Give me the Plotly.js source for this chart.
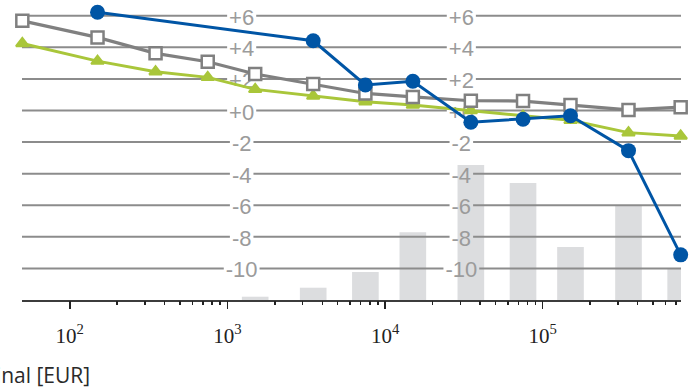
<!DOCTYPE html>
<html><head><meta charset="utf-8">
<script src="https://cdn.plot.ly/plotly-3.0.1.min.js"></script>
<style>html,body{margin:0;padding:0;background:#fff}#chart{width:696px;height:392px}</style>
</head><body><div id="chart"></div>
<script>
// ---- data ----
const binCenters  = [50, 150, 350, 750, 1500, 3500, 7500, 15000, 35000, 75000, 150000, 350000, 750000];
const seriesGray  = [5.68, 4.63, 3.62, 3.09, 2.31, 1.68, 1.08, 0.86, 0.62, 0.60, 0.35, 0.04, 0.21];
const seriesGreen = [4.25, 3.13, 2.46, 2.10, 1.34, 0.92, 0.56, 0.35, 0.00, -0.35, -0.62, -1.40, -1.61];
const seriesBlue  = [null, 6.22, null, null, null, 4.42, 1.62, 1.85, -0.74, -0.55, -0.33, -2.54, -9.14];
const barShare    = [0, 0, 0, 0, 0.33, 1.23, 2.8, 6.77, 13.5, 11.7, 5.3, 9.43, 3.13];
const yTickVals   = [-10, -8, -6, -4, -2, 0, 2, 4, 6];
const yTickText   = ['-10', '-8', '-6', '-4', '-2', '+0', '+2', '+4', '+6'];
const xTickVals   = [100, 1000, 10000, 100000];
const xTickText   = ['10<sup>2</sup>', '10<sup>3</sup>', '10<sup>4</sup>', '10<sup>5</sup>'];
const xTitle      = 'Nominal [EUR]';

// ---- styling / geometry ----
const xMin = 50, xMax = 750000;
const pad = 0.002;
const logRange = [Math.log10(xMin) - pad, Math.log10(xMax) + pad];
const yRange = [-12, 7];
const plotW = 659, plotH = 300;
const labelCols = [1/3, 2/3];
const labelFontSize = 22;
const labelDrop = 3.5 * (yRange[1] - yRange[0]) / plotH; // labels sit slightly below their grid line
const gridColor = '#8c8c8c';

function valAtFrac(f) { return Math.pow(10, logRange[0] + f * (logRange[1] - logRange[0])); }

// minor ticks 2..9 x 10^d
const minorVals = [];
for (let d = 2; d <= 5; d++) for (let m = 2; m <= 9; m++) {
  const v = m * Math.pow(10, d);
  if (v <= xMax) minorVals.push(v);
}

// approximate text widths (Liberation Sans advance widths)
const adv = {'+': 0.584, '-': 0.333};
function textW(s) { let w = 0; for (const c of s) w += (adv[c] !== undefined ? adv[c] : 0.556); return w * labelFontSize; }

// grid line segments broken around the labels
const shapes = [];
yTickVals.forEach((yv, i) => {
  const half = (textW(yTickText[i]) / 2 + 2) / plotW;
  const cuts = [0];
  labelCols.forEach(c => { cuts.push(c - half); cuts.push(c + half); });
  cuts.push(1);
  for (let k = 0; k < cuts.length; k += 2) {
    shapes.push({type: 'line', xref: 'x2', yref: 'y3', layer: 'below',
      x0: valAtFrac(cuts[k]), x1: valAtFrac(cuts[k + 1]), y0: yv, y1: yv,
      line: {color: gridColor, width: 2}});
  }
});

const traces = [];
// bars (own subplot underneath)
traces.push({type: 'bar', x: binCenters.map(v => Math.log10(v)), y: barShare, width: 0.169,
  xaxis: 'x', yaxis: 'y', marker: {color: '#dcdddf', line: {width: 0}}, hoverinfo: 'skip', showlegend: false});
// y labels as text marks inside the plot
labelCols.forEach(c => {
  traces.push({type: 'scatter', mode: 'text', x: yTickVals.map(() => valAtFrac(c)), y: yTickVals,
    text: yTickText, textposition: 'middle center', cliponaxis: false,
    textfont: {family: 'Liberation Sans, Arial, sans-serif', size: labelFontSize, color: '#9b9b9b'},
    xaxis: 'x2', yaxis: 'y2', hoverinfo: 'skip', showlegend: false});
});
traces.push({type: 'scatter', mode: 'lines+markers', x: binCenters, y: seriesGreen, xaxis: 'x2', yaxis: 'y3',
  line: {color: '#a9c63a', width: 3}, marker: {symbol: 'triangle-up', size: 11, color: '#a9c63a', line: {color: '#a9c63a', width: 2}},
  cliponaxis: false, showlegend: false});
traces.push({type: 'scatter', mode: 'lines+markers', x: binCenters, y: seriesGray, xaxis: 'x2', yaxis: 'y3',
  line: {color: '#808080', width: 3.2}, marker: {symbol: 'square', size: 12, color: '#ffffff', line: {color: '#808080', width: 2.5}},
  cliponaxis: false, showlegend: false});
traces.push({type: 'scatter', mode: 'lines+markers', x: binCenters, y: seriesBlue, xaxis: 'x2', yaxis: 'y3', connectgaps: true,
  line: {color: '#0055a5', width: 3}, marker: {symbol: 'circle', size: 15, color: '#0055a5'},
  cliponaxis: false, showlegend: false});

const hiddenY = {showgrid: false, zeroline: false, showticklabels: false, ticks: '', showline: false};
const layout = {
  width: 696, height: 392,
  margin: {l: 22, r: 15, t: 0, b: 92},
  paper_bgcolor: '#ffffff', plot_bgcolor: 'rgba(0,0,0,0)',
  showlegend: false,
  xaxis: {domain: [0, 1], type: 'linear', range: logRange, anchor: 'y', showline: true, linecolor: '#3c3c3c', linewidth: 1.5,
    layer: 'below traces', ticks: '', showticklabels: false, showgrid: false, zeroline: false},
  yaxis: {domain: [0, 1], range: [0, 30], visible: false},
  xaxis2: {domain: [0, 1], type: 'log', range: logRange, anchor: 'y2', tickmode: 'array', tickvals: xTickVals, ticktext: xTickText,
    ticks: 'outside', ticklen: 8, tickwidth: 1.5, tickcolor: '#222', ticklabelstandoff: 9,
    tickfont: {family: 'Liberation Serif, Times New Roman, serif', size: 21, color: '#222'},
    showgrid: false, zeroline: false, showline: false,
    minor: {tickmode: 'array', tickvals: minorVals, ticks: 'outside', ticklen: 4, tickwidth: 1.5, tickcolor: '#222', showgrid: false}},
  xaxis3: {type: 'log', range: logRange, overlaying: 'x2', anchor: 'y2', tickmode: 'array', tickvals: minorVals,
    ticks: 'inside', ticklen: 4, tickwidth: 1.5, tickcolor: '#222', showticklabels: false, showgrid: false, zeroline: false, showline: false},
  yaxis2: Object.assign({domain: [0, 1], range: [yRange[0] + labelDrop, yRange[1] + labelDrop], anchor: 'x2'}, hiddenY),
  yaxis3: Object.assign({range: yRange, overlaying: 'y2', anchor: 'x2'}, hiddenY),
  shapes: shapes,
  annotations: [{text: xTitle, xref: 'paper', yref: 'paper', x: (92 - 22) / plotW, y: -0.25, xanchor: 'right', yanchor: 'middle',
    showarrow: false, font: {family: 'Open Sans, sans-serif', size: 21, color: '#2a2a2a'}}]
};

Plotly.newPlot('chart', traces, layout, {staticPlot: true, displayModeBar: false});
</script>
</body></html>
